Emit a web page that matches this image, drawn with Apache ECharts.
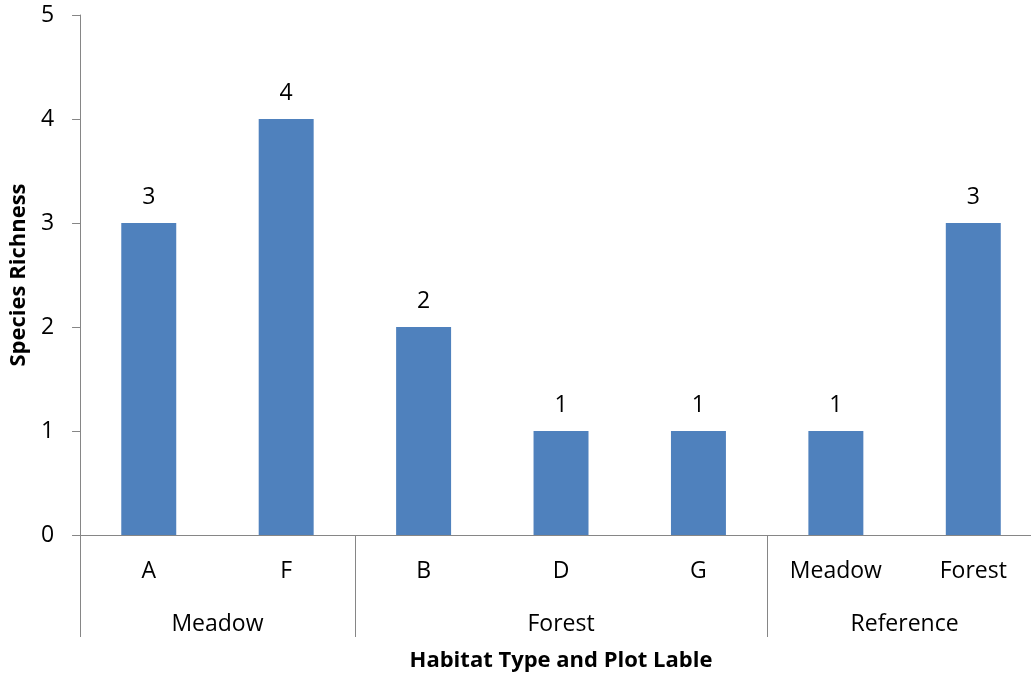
<!DOCTYPE html>
<html>
<head>
<meta charset="utf-8">
<script src="https://cdn.jsdelivr.net/npm/echarts@6/dist/echarts.min.js"></script>
<style>
  html, body { margin: 0; padding: 0; background: #fff; overflow: hidden; width: 1031px; height: 677px; }
  /* the plot area runs a little past the right edge of the page */
  #chart { width: 1042px; height: 677px; }
</style>
</head>
<body>
<div id="chart"></div>
<script>
// Plot labels and species counts per plot
const plots = ['A', 'F', 'B', 'D', 'G', 'Meadow', 'Forest'];
const richness = [3, 4, 2, 1, 1, 1, 3];
// Habitat groups: name and how many plots each one spans
const groupNames = ['Meadow', 'Forest', 'Reference'];
const groupSizes = [2, 3, 2];
const yTicks = [0, 1, 2, 3, 4, 5];

// Group boundaries and centres on a 0..plots.length scale
const bounds = [0];
groupSizes.forEach(n => bounds.push(bounds[bounds.length - 1] + n));
const centres = groupSizes.map((n, i) => bounds[i] + n / 2);

const FONT = '"Open Sans", "Noto Sans", sans-serif';
const AXIS = '#868686';

const chart = echarts.init(document.getElementById('chart'));
chart.setOption({
  animation: false,
  backgroundColor: '#fff',
  grid: { left: 80, top: 15, bottom: 139, right: 0, containLabel: false },
  xAxis: [
    {
      type: 'category',
      data: plots,
      position: 'bottom',
      axisLine: { show: true, lineStyle: { color: AXIS, width: 1 } },
      axisTick: { show: false },
      axisLabel: { color: '#000', fontFamily: FONT, fontSize: 23, margin: 25 }
    },
    {
      // group separators and habitat names beneath the plot labels
      type: 'value',
      min: 0,
      max: plots.length,
      position: 'bottom',
      axisLine: { show: false },
      splitLine: { show: false },
      axisTick: {
        show: true,
        customValues: bounds,
        length: 102,
        inside: false,
        lineStyle: { color: AXIS, width: 1 }
      },
      axisLabel: {
        customValues: centres,
        formatter: v => groupNames[centres.indexOf(v)] || '',
        color: '#000',
        fontFamily: FONT,
        fontSize: 23,
        margin: 78
      },
      name: 'Habitat Type and Plot Lable',
      nameLocation: 'middle',
      nameGap: 115,
      nameTextStyle: { color: '#000', fontFamily: FONT, fontSize: 22, fontWeight: 'bold' }
    }
  ],
  yAxis: {
    type: 'value',
    min: yTicks[0],
    max: yTicks[yTicks.length - 1],
    interval: 1,
    splitLine: { show: false },
    axisLine: { show: true, lineStyle: { color: AXIS, width: 1 } },
    axisTick: { show: true, length: 8, lineStyle: { color: AXIS, width: 1 } },
    axisLabel: { color: '#000', fontFamily: FONT, fontSize: 23, margin: 26 },
    name: 'Species Richness',
    nameLocation: 'middle',
    nameGap: 50,
    nameTextStyle: { color: '#000', fontFamily: FONT, fontSize: 22, fontWeight: 'bold' }
  },
  series: [{
    type: 'bar',
    xAxisIndex: 0,
    data: richness,
    barWidth: '40%',
    itemStyle: { color: '#4F81BD' },
    label: {
      show: true,
      position: 'top',
      distance: 14,
      color: '#000',
      fontFamily: FONT,
      fontSize: 23
    }
  }]
});
</script>
</body>
</html>
